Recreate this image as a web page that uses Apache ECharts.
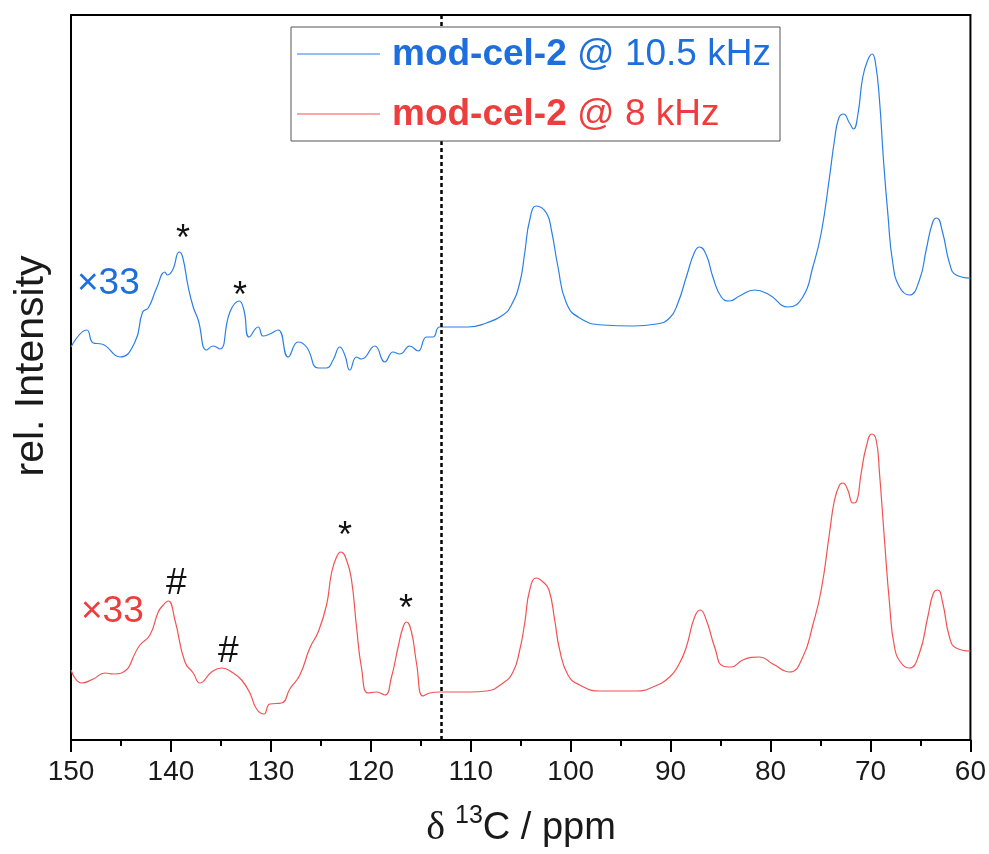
<!DOCTYPE html>
<html>
<head>
<meta charset="utf-8">
<script src="https://cdn.jsdelivr.net/npm/echarts@6/dist/echarts.min.js"></script>
<style>html,body{margin:0;padding:0;background:#fff;}#c{width:989px;height:854px;}</style>
</head>
<body>
<div id="c"></div>
<script>
// ---- data (ppm, relative intensity in arbitrary units) ----
var bluePpm = [150.0,148.43,147.77,146.93,145.1,143.6,142.83,142.27,141.43,140.6,140.37,139.83,139.17,138.83,138.27,137.77,137.27,136.43,135.77,135.1,134.1,133.17,132.7,132.17,131.27,130.77,130.1,129.27,128.27,127.27,126.43,125.27,124.43,123.77,123.1,122.6,122.1,121.43,120.93,119.6,118.6,117.77,117.1,116.1,115.27,114.43,113.77,113.1,
  110.27,108.43,106.77,105.93,105.1,104.6,104.1,103.43,102.43,101.93,101.27,100.43,99.1,96.77,93.77,91.43,90.1,89.27,88.43,87.6,87.1,86.43,85.77,84.93,84.1,83.1,81.6,80.1,78.27,76.77,75.77,74.93,74.1,73.6,73.17,72.7,72.1,71.7,71.27,70.77,70.27,69.83,69.5,69.1,68.7,68.27,67.77,67.1,66.1,65.1,64.43,63.77,63.37,62.77,62.1,61.43,60.0];
var blueInt = [393,410,397,396,383,398,428,432,452,468,465,470,488,483,453,433,420,390,394,391,428,439,430,403,413,404,406,410,383,398,393,372,372,380,393,385,370,383,381,394,378,388,386,394,389,403,403,413,
  413,417,425,435,457,487,520,534,527,510,473,437,422,415,414,416,422,437,463,488,493,485,463,443,439,444,450,445,433,443,473,507,563,600,622,626,617,611,625,663,680,686,677,640,580,527,477,453,445,460,490,518,522,507,477,465,462];

var redPpm = [150.0,148.93,147.77,146.6,145.77,144.93,143.1,142.1,141.27,140.77,140.27,139.6,138.6,137.77,137.1,135.93,134.93,133.77,132.93,132.1,131.43,130.7,130.1,128.93,128.1,127.1,126.1,125.27,124.43,123.93,123.43,123.0,122.43,121.93,121.43,120.93,120.27,119.43,118.6,117.93,117.27,116.77,116.43,115.93,115.43,114.77,114.1,113.1,
  110.1,108.43,106.77,105.77,105.1,104.6,104.1,103.43,102.77,102.17,101.6,101.1,100.27,99.1,97.1,93.43,91.77,90.1,89.1,88.43,87.6,87.03,86.43,85.6,84.77,83.93,82.77,81.1,79.77,78.1,76.77,75.77,74.93,74.1,73.6,73.1,72.77,72.27,71.77,71.43,70.93,70.43,69.87,69.43,69.1,68.6,68.1,67.6,66.93,66.1,65.1,64.27,63.7,63.27,62.77,62.1,61.43,60.0];
var redInt = [70,57,61,67,66,67,95,105,128,135,139,120,78,67,57,68,72,67,60,47,31,26,36,37,51,65,92,108,135,167,183,188,180,160,113,72,47,48,45,63,93,113,118,108,77,44,47,48,
  48,49,57,68,90,117,150,162,158,150,120,90,65,55,49,49,53,63,77,93,123,130,120,93,74,73,80,83,76,68,83,115,150,207,240,255,257,250,237,238,267,293,306,300,267,200,137,93,77,72,87,123,147,150,137,103,92,89];

var xTicksMin = 60, xTicksMax = 150, xTickStep = 10;
var dashedPpm = 113;
var legendNames = ['mod-cel-2', 'mod-cel-2'];
var legendRates = [' @ 10.5 kHz', ' @ 8 kHz'];
var scaleLabels = ['\u00d733', '\u00d733'];

var BLUE = '#1c6fdc', RED = '#ee3d3d';
var BLUE_LINE = '#2a7fe6', RED_LINE = '#f25252';

function pairs(xs, ys) { var o = []; for (var i = 0; i < xs.length; i++) o.push([xs[i], ys[i]]); return o; }

var chart = echarts.init(document.getElementById('c'), null, {renderer: 'canvas'});
var FONT = 'Liberation Sans, Arial, sans-serif';
var INK = '#1a1a1a';

function mark(txt, x, y, size) {
  return {type: 'text', x: x, y: y, z: 11, style: {text: txt, fontFamily: FONT, fontSize: size, fill: '#111'}};
}

var option = {
  animation: false,
  backgroundColor: '#fff',
  grid: {left: 71, right: 18, top: 15, bottom: 114, show: true, borderColor: '#000', borderWidth: 2, backgroundColor: 'transparent'},
  xAxis: {
    type: 'value', inverse: true, min: xTicksMin, max: xTicksMax, interval: xTickStep,
    axisLine: {lineStyle: {color: '#000', width: 2}},
    axisTick: {show: true, inside: false, length: 12, lineStyle: {color: '#000', width: 2}},
    minorTick: {show: true, splitNumber: 2, length: 6, lineStyle: {color: '#000', width: 2}},
    splitLine: {show: false},
    axisLabel: {fontFamily: FONT, fontSize: 28, color: INK, margin: 18}
  },
  yAxis: {
    type: 'value', min: 0, max: 725,
    axisLine: {show: true, lineStyle: {color: '#000', width: 2}},
    axisTick: {show: false}, axisLabel: {show: false}, splitLine: {show: false}
  },
  series: [
    {type: 'line', data: pairs(bluePpm, blueInt), showSymbol: false, smooth: 0.5,
     lineStyle: {color: BLUE_LINE, width: 1.2}, z: 3,
     markLine: {silent: true, symbol: ['none', 'none'], label: {show: false},
       lineStyle: {color: '#000', width: 2.5, type: [4, 3]}, data: [{xAxis: dashedPpm}]}},
    {type: 'line', data: pairs(redPpm, redInt), showSymbol: false, smooth: 0.5,
     lineStyle: {color: RED_LINE, width: 1.2}, z: 3}
  ],
  graphic: [
    {type: 'rect', shape: {x: 291, y: 27, width: 489, height: 114}, style: {fill: '#fff', stroke: '#555', lineWidth: 1}, z: 10},
    {type: 'line', shape: {x1: 297, y1: 54, x2: 380, y2: 54}, style: {stroke: BLUE_LINE, lineWidth: 1}, z: 11},
    {type: 'line', shape: {x1: 297, y1: 114, x2: 380, y2: 114}, style: {stroke: RED_LINE, lineWidth: 1}, z: 11},
    {type: 'text', x: 392, y: 55, z: 11, style: {
      text: '{b|' + legendNames[0] + '}{r|' + legendRates[0] + '}', verticalAlign: 'middle',
      rich: {b: {fontFamily: FONT, fontSize: 37, fontWeight: 'bold', fill: BLUE},
             r: {fontFamily: FONT, fontSize: 37, fill: BLUE}}}},
    {type: 'text', x: 392, y: 115, z: 11, style: {
      text: '{b|' + legendNames[1] + '}{r|' + legendRates[1] + '}', verticalAlign: 'middle',
      rich: {b: {fontFamily: FONT, fontSize: 37, fontWeight: 'bold', fill: RED},
             r: {fontFamily: FONT, fontSize: 37, fill: RED}}}},
    {type: 'text', x: 77, y: 284, z: 11, style: {text: scaleLabels[0], fontFamily: FONT, fontSize: 37, fill: BLUE, verticalAlign: 'middle'}},
    {type: 'text', x: 81, y: 612, z: 11, style: {text: scaleLabels[1], fontFamily: FONT, fontSize: 37, fill: RED, verticalAlign: 'middle'}},
    mark('*', 176, 222, 36),
    mark('*', 233, 279, 36),
    mark('*', 338, 519, 36),
    mark('*', 399, 592, 36),
    mark('#', 166, 565, 37),
    mark('#', 218, 633, 37),
    {type: 'text', x: 521, y: 826, z: 11, style: {
      text: '{d|\u03b4 }{s|13}{n|C / ppm}', align: 'center', verticalAlign: 'middle',
      rich: {d: {fontFamily: 'Liberation Serif, serif', fontSize: 40, fill: INK, verticalAlign: 'bottom', lineHeight: 44},
             s: {fontFamily: FONT, fontSize: 25, fill: INK, verticalAlign: 'top', lineHeight: 44},
             n: {fontFamily: FONT, fontSize: 38, fill: INK, verticalAlign: 'bottom', lineHeight: 44}}}},
    {type: 'text', x: 32, y: 366, rotation: Math.PI / 2, z: 11, style: {
      text: 'rel. Intensity', fontFamily: FONT, fontSize: 41, fill: INK, align: 'center', verticalAlign: 'middle'}}
  ]
};
chart.setOption(option);
</script>
</body>
</html>
